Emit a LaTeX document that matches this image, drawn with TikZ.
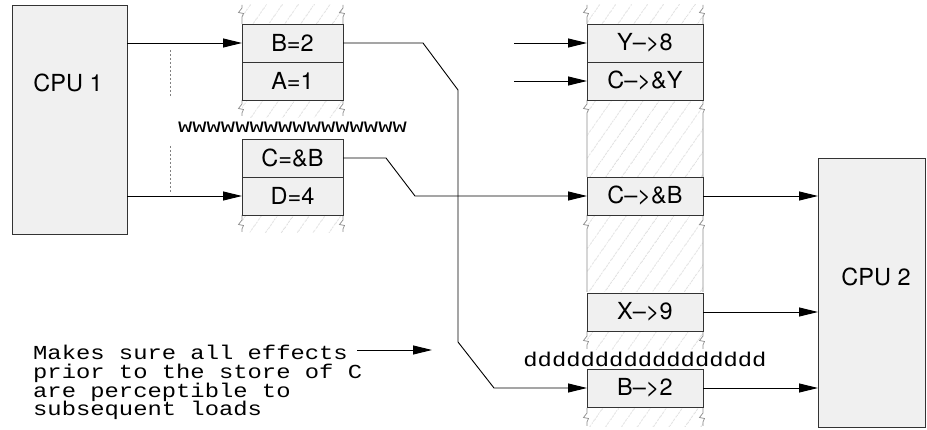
\documentclass[tikz,border=0pt]{standalone}
\usepackage{fontspec}
\setmainfont{TeX Gyre Heros}
\newfontfamily\monof[FakeStretch=1.2]{Liberation Mono}
\usetikzlibrary{arrows.meta,patterns.meta}
\begin{document}
\begin{tikzpicture}[x=1pt,y=-1pt,
  cell/.style={draw=black!80, line width=0.9pt, fill=black!6, minimum height=38pt, inner sep=0pt, outer sep=0pt, font=\fontsize{23.5}{28}\selectfont},
  lcell/.style={cell, minimum width=101pt},
  rcell/.style={cell, minimum width=116pt},
  cpubox/.style={draw=black!80, line width=0.9pt, fill=black!6, inner sep=0pt, outer sep=0pt},
  cputext/.style={font=\fontsize{23.5}{28}\selectfont, inner sep=0pt},
  conn/.style={draw=black, line width=0.9pt, -{Triangle[length=19pt,width=9pt]}},
  hatch/.style={pattern={Lines[angle=55,distance=13pt,line width=0.6pt]}, pattern color=black!18},
  rail/.style={draw=black!45, line width=0.7pt},
  guide/.style={draw=black!50, line width=0.6pt, dash pattern=on 2pt off 2pt},
  mono/.style={font=\monof\fontsize{19.86}{18.7}\selectfont, inner sep=0pt},
  noteline/.style={mono, anchor=base west, text height=11pt, text depth=3pt}
]
\useasboundingbox (0,0) rectangle (927,430);

% hatched queue regions
\fill[hatch] (242,5) rectangle (343,24);
\fill[hatch] (242,100) rectangle (343,118);
\fill[hatch] (242,215) rectangle (343,233);
\fill[hatch] (587,5) rectangle (703,24);
\fill[hatch] (587,100) rectangle (703,177);
\fill[hatch] (587,215) rectangle (703,292);
\fill[hatch] (587,331) rectangle (703,350);
\fill[hatch] (587,408) rectangle (703,427);

% rails with break marks
\foreach \x in {242,343} {
  \draw[rail] (\x,5) -- ++(0,3) -- ++(-3.5,4.5) -- ++(5,1) -- ++(-1.5,3.5) -- (\x,24);
  \draw[rail] (\x,100) -- (\x,104) -- ++(-3.5,4.5) -- ++(5,1) -- ++(-1.5,3.5) -- ++(0,3);
  \draw[rail] (\x,215) -- (\x,220) -- ++(-3.5,4.5) -- ++(5,1) -- ++(-1.5,3.5) -- ++(0,3);
}
\foreach \x in {587,703} {
  \draw[rail] (\x,5) -- ++(0,3) -- ++(-3.5,4.5) -- ++(5,1) -- ++(-1.5,3.5) -- (\x,24);
  \draw[rail] (\x,100) -- (\x,104) -- ++(-3.5,4.5) -- ++(5,1) -- ++(-1.5,3.5) -- (\x,177);
  \draw[rail] (\x,215) -- (\x,220) -- ++(-3.5,4.5) -- ++(5,1) -- ++(-1.5,3.5) -- (\x,292);
  \draw[rail] (\x,331) -- (\x,336) -- ++(-3.5,4.5) -- ++(5,1) -- ++(-1.5,3.5) -- ++(0,4);
  \draw[rail] (\x,408) -- (\x,413) -- ++(-3.5,4.5) -- ++(5,1) -- ++(-1.5,3.5) -- ++(0,4);
}

% dashed guides
\draw[guide] (170,50) -- (170,96);
\draw[guide] (170,146) -- (170,192);

% CPUs
\node[cpubox, minimum width=115pt, minimum height=229pt] (cpu1) at (69.5,119.5) {};
\node[cputext] (cpu1t) at (68,83) {CPU 1};
\node[cpubox, minimum width=107pt, minimum height=269pt] (cpu2) at (871.5,292.5) {};
\node[cputext] (cpu2t) at (876,277) {CPU 2};

% store buffer cells
\node[lcell] (b2) at (292.5,43) {B=2};
\node[lcell] (a1) at (292.5,81) {A=1};
\node[lcell] (cb) at (292.5,158) {C=\&B};
\node[lcell] (d4) at (292.5,196) {D=4};

% invalidate queue cells
\node[rcell] (y8) at (645,43) {Y–>8};
\node[rcell] (cy) at (645,81) {C–>\&Y};
\node[rcell] (cbr) at (645,196) {C–>\&B};
\node[rcell] (x9) at (645,312) {X–>9};
\node[rcell] (br2) at (645,388) {B–>2};

% filler texts
\node[mono, anchor=base] (wfill) at (292.5,133) {wwwwwwwwwwwwwwww};
\node[mono, anchor=base] (dfill) at (645,367) {ddddddddddddddddd};

% connectors
\draw[conn] (cpu1.east |- b2.west) -- (b2.west);
\draw[conn] (cpu1.east |- d4.west) -- (d4.west);
\coordinate (yin) at (514,43);
\coordinate (cyin) at (514,81);
\draw[conn] (yin) -- (y8.west);
\draw[conn] (cyin) -- (cy.west);
\draw[conn] (b2.east) -- (423,43) -- (458,90) -- (458,342) -- (494,388) -- (br2.west);
\draw[conn] (cb.east) -- (386,158) -- (415,196) -- (cbr.west);
\draw[conn] (cbr.east) -- (cbr.east -| cpu2.west);
\draw[conn] (x9.east) -- (x9.east -| cpu2.west);
\draw[conn] (br2.east) -- (br2.east -| cpu2.west);

% annotation
\node[noteline] (note1) at (33,360) {Makes sure all effects};
\node[noteline] (note2) at (33,378.7) {prior to the store of C};
\node[noteline] (note3) at (33,397.4) {are perceptible to};
\node[noteline] (note4) at (33,416) {subsequent loads};
\coordinate (noteA) at (357,350);
\coordinate (noteB) at (432,350);
\draw[conn] (noteA) -- (noteB);
\end{tikzpicture}
\end{document}
